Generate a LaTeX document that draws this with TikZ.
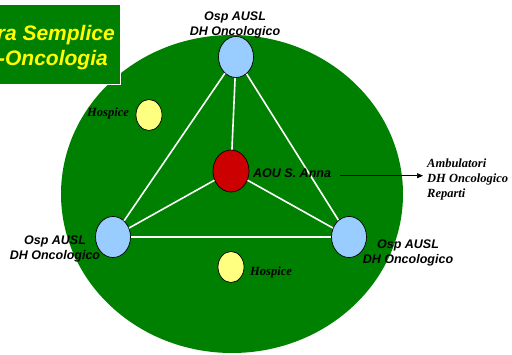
\documentclass[tikz,border=0pt]{standalone}
\usepackage{fontspec}
\setmainfont{Liberation Serif}
\setsansfont{Liberation Sans}
\usetikzlibrary{shapes.geometric,arrows.meta}
\definecolor{bggreen}{HTML}{008000}
\definecolor{hubblue}{HTML}{99CCFF}
\definecolor{hubred}{HTML}{CC0000}
\definecolor{hospyellow}{HTML}{FFFF80}
\definecolor{titleyellow}{HTML}{FFFF00}
\begin{document}
\begin{tikzpicture}[x=1pt,y=-1pt,
  hub/.style={ellipse, draw=black, line width=0.7pt, inner sep=0pt,
              minimum width=35pt, minimum height=41pt, fill=hubblue},
  center/.style={hub, fill=hubred, minimum width=36pt, minimum height=42pt},
  hosp/.style={hub, fill=hospyellow, minimum width=26pt, minimum height=31pt},
  wline/.style={white, line width=1.6pt},
  lab/.style={font=\sffamily\bfseries\itshape\fontsize{12.5}{15}\selectfont, inner sep=0pt, align=center},
  slab/.style={font=\rmfamily\bfseries\itshape\fontsize{12.5}{15}\selectfont, inner sep=0pt, align=left},
  ttl/.style={font=\sffamily\bfseries\itshape\fontsize{21}{25}\selectfont, text=titleyellow, inner sep=0pt},
  arr/.style={-{Triangle[length=6pt,width=5pt]}, line width=0.6pt, black}
]
\useasboundingbox (0,0) rectangle (512,355);
% big green disc
\fill[bggreen] (232,194) ellipse [x radius=171, y radius=159];
% title box
\filldraw[fill=bggreen, draw=white, line width=1pt] (-3,5) rectangle (120,85);
\node[ttl, anchor=base east] (t1) at (115,41) {ra Semplice};
\node[ttl, anchor=base east] (t2) at (108,66) {-Oncologia};
% nodes
\node[hub] (top) at (236,57) {};
\node[hub] (left) at (113,237) {};
\node[hub] (right) at (349,237) {};
\node[center] (aouc) at (231,171) {};
\node[hosp] (h1) at (149,115) {};
\node[hosp] (h2) at (231,267) {};
% white connectors
\draw[wline] (top) -- (left);
\draw[wline] (top) -- (right);
\draw[wline] (left) -- (right);
\draw[wline] (aouc) -- (top);
\draw[wline] (aouc) -- (left);
\draw[wline] (aouc) -- (right);
% labels
\node[lab, anchor=north] (ltop) at (235,11.5) {Osp AUSL\\DH Oncologico};
\node[lab, anchor=north] (lleft) at (55,235.5) {Osp AUSL\\DH Oncologico};
\node[lab, anchor=north] (lright) at (408,239.5) {Osp AUSL\\DH Oncologico};
\node[lab, anchor=base west] (aou) at (253,178) {AOU S. Anna};
\node[slab, anchor=base west] (hl1) at (87,117) {Hospice};
\node[slab, anchor=base west] (hl2) at (250,276) {Hospice};
\node[slab, anchor=north west] (amb) at (427,159) {Ambulatori\\DH Oncologico\\Reparti};
\draw[arr] ([xshift=9pt,yshift=-2pt]aou.east) -- ([xshift=-4pt,yshift=-2pt]aou.east -| amb.west);
\end{tikzpicture}
\end{document}
